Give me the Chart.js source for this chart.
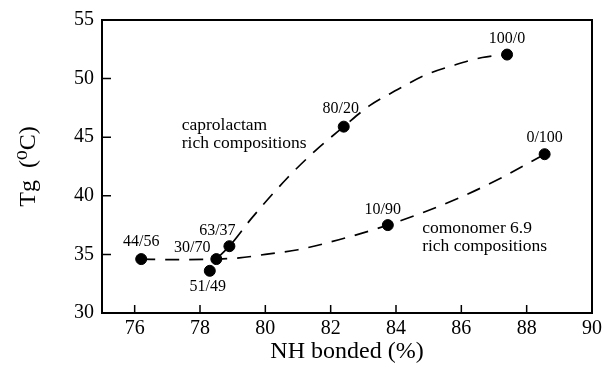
<!DOCTYPE html>
<html>
<head>
<meta charset="utf-8">
<script src="https://cdn.jsdelivr.net/npm/chart.js@4/dist/chart.umd.min.js"></script>
<style>
  html, body { margin: 0; padding: 0; background: #fff; }
  #wrap { width: 607px; height: 368px; }
</style>
</head>
<body>
<div id="wrap"><canvas id="chartCanvas"></canvas></div>
<script>
// --- Data ---
const nhBonded = [76.2, 78.5, 78.3, 78.9, 82.4, 87.4, 83.75, 88.55];
const tgValues = [34.6, 34.6, 33.6, 35.7, 45.9, 52.05, 37.5, 43.55];
const pointLabels = ["44/56", "30/70", "51/49", "63/37", "80/20", "100/0", "10/90", "0/100"];

// dashed trend curves (traced along the dashes)
const caproCurveX = [78.5, 78.9, 79.57, 80.68, 81.5, 82.4, 83.18, 84.05, 84.91, 85.73, 86.64, 87.4];
const caproCurveY = [34.6, 35.7, 38.05, 41.54, 43.77, 45.9, 47.67, 49.06, 50.32, 51.1, 51.8, 52.05];
const comonoCurveX = [76.2, 77.1, 78.5, 79.2, 80.0, 81.0, 82.25, 83.75, 84.85, 86.0, 87.2, 88.55];
const comonoCurveY = [34.6, 34.55, 34.6, 34.7, 35.0, 35.4, 36.25, 37.5, 38.6, 39.9, 41.5, 43.55];

const xTicks = [76, 78, 80, 82, 84, 86, 88, 90];
const yTicks = [30, 35, 40, 45, 50, 55];

const serif = "'Liberation Serif', 'DejaVu Serif', serif";

// label offsets relative to each point (px)
const labelOffsets = [[0, -17], [-24, -11], [-2, 16], [-12, -15], [-3, -18], [0, -16], [-5, -15], [0, -16]];

const toXY = (xs, ys) => xs.map((x, i) => ({ x, y: ys[i] }));

// --- Plugins ---
const frameAndTicks = {
  id: "frameAndTicks",
  afterDraw(chart) {
    const { ctx, chartArea: a, scales: { x, y } } = chart;
    ctx.save();
    ctx.strokeStyle = "#000";
    ctx.lineWidth = 2;
    ctx.strokeRect(a.left, a.top, a.right - a.left, a.bottom - a.top);
    ctx.lineWidth = 1.5;
    ctx.beginPath();
    xTicks.forEach(v => {
      const px = x.getPixelForValue(v);
      if (px >= a.right - 1) return;
      ctx.moveTo(px, a.bottom);
      ctx.lineTo(px, a.bottom - 8);
    });
    yTicks.forEach(v => {
      const py = y.getPixelForValue(v);
      if (py <= a.top + 1 || py >= a.bottom - 1) return;
      ctx.moveTo(a.left, py);
      ctx.lineTo(a.left + 9, py);
    });
    ctx.stroke();
    ctx.restore();
  }
};

const textLabels = {
  id: "textLabels",
  afterDatasetsDraw(chart) {
    const { ctx, scales: { x, y } } = chart;
    const meta = chart.getDatasetMeta(0);
    ctx.save();
    ctx.fillStyle = "#000";
    ctx.font = `16px ${serif}`;
    ctx.textAlign = "center";
    ctx.textBaseline = "middle";
    meta.data.forEach((pt, i) => {
      const [dx, dy] = labelOffsets[i];
      ctx.fillText(pointLabels[i], pt.x + dx, pt.y + dy);
    });
    ctx.textAlign = "left";
    ctx.font = `17.5px ${serif}`;
    const cx = x.getPixelForValue(77.44), cy = y.getPixelForValue(46.0);
    ctx.fillText("caprolactam", cx, cy);
    ctx.fillText("rich compositions", cx, cy + 17.5);
    const mx = x.getPixelForValue(84.8), my = y.getPixelForValue(37.19);
    ctx.fillText("comonomer 6.9", mx, my);
    ctx.fillText("rich compositions", mx, my + 18);
    ctx.restore();
  }
};

// --- Chart ---
const canvas = document.getElementById("chartCanvas").getContext("2d");

new Chart(canvas, {
  type: "scatter",
  data: {
    datasets: [
      {
        label: "Tg",
        data: toXY(nhBonded, tgValues),
        backgroundColor: "#000",
        borderColor: "#000",
        pointRadius: 5.5,
        pointHoverRadius: 5.5
      },
      {
        label: "caprolactam rich",
        data: toXY(caproCurveX, caproCurveY),
        showLine: true,
        borderColor: "#000",
        borderWidth: 1.7,
        borderDash: [14, 10],
        pointRadius: 0,
        cubicInterpolationMode: "monotone"
      },
      {
        label: "comonomer rich",
        data: toXY(comonoCurveX, comonoCurveY),
        showLine: true,
        borderColor: "#000",
        borderWidth: 1.7,
        borderDash: [14, 10],
        pointRadius: 0,
        cubicInterpolationMode: "monotone"
      }
    ]
  },
  options: {
    responsive: true,
    maintainAspectRatio: false,
    animation: false,
    layout: { padding: { left: 0, right: 15, top: 14, bottom: 0 } },
    plugins: {
      legend: { display: false },
      tooltip: { enabled: false }
    },
    scales: {
      x: {
        type: "linear",
        min: 75,
        max: 90,
        afterBuildTicks: s => { s.ticks = xTicks.map(v => ({ value: v })); },
        afterFit: s => { s.height = 55; },
        grid: { display: false, drawTicks: false },
        border: { display: false },
        ticks: { color: "#000", font: { family: serif, size: 20 }, padding: 4, maxRotation: 0 },
        title: { display: true, text: "NH bonded (%)", color: "#000", font: { family: serif, size: 24 }, padding: { top: 0, bottom: 2 } }
      },
      y: {
        type: "linear",
        min: 30,
        max: 55,
        afterBuildTicks: s => { s.ticks = yTicks.map(v => ({ value: v })); },
        afterFit: s => { s.width = 102; },
        grid: { display: false, drawTicks: false },
        border: { display: false },
        ticks: { color: "#000", font: { family: serif, size: 20 }, padding: 8 },
        title: { display: true, text: "Tg  (\u2070C)", color: "#000", font: { family: serif, size: 24 }, padding: { top: 14, bottom: 0 } }
      }
    }
  },
  plugins: [frameAndTicks, textLabels]
});
</script>
</body>
</html>
